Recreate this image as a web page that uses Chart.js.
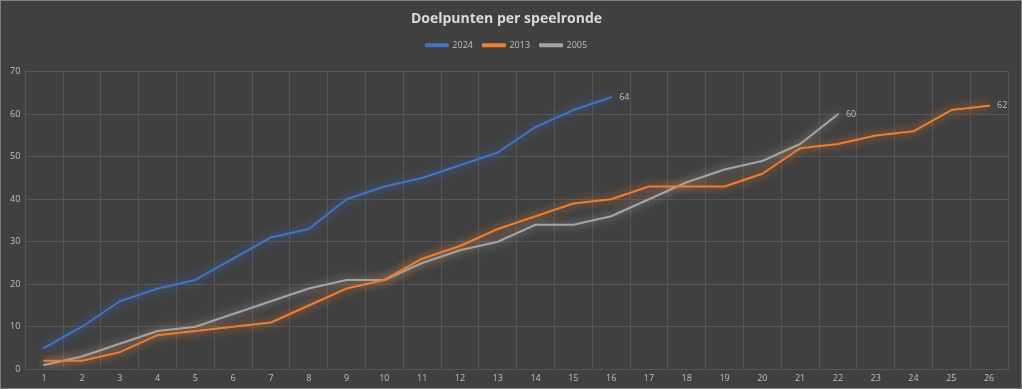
<!DOCTYPE html>
<html lang="nl">
<head>
<meta charset="UTF-8">
<title>Doelpunten per speelronde</title>
<script src="https://cdn.jsdelivr.net/npm/chart.js"></script>
<style>
  html, body { margin: 0; padding: 0; background: #404040; }
  #wrap { width: 1022px; height: 389px; box-sizing: border-box; border: 1px solid #7f7f7f; }
  canvas { display: block; }
</style>
</head>
<body>
<div id="wrap"><canvas id="chart" width="1020" height="387"></canvas></div>
<script>
// speelrondes 1 t/m 26
const rondes = ['1','2','3','4','5','6','7','8','9','10','11','12','13','14','15','16','17','18','19','20','21','22','23','24','25','26'];
const goals2024 = [5, 10, 16, 19, 21, 26, 31, 33, 40, 43, 45, 48, 51, 57, 61, 64];
const goals2013 = [2, 2, 4, 8, 9, 10, 11, 15, 19, 21, 26, 29, 33, 36, 39, 40, 43, 43, 43, 46, 52, 53, 55, 56, 61, 62];
const goals2005 = [1, 3, 6, 9, 10, 13, 16, 19, 21, 21, 25, 28, 30, 34, 34, 36, 40, 44, 47, 49, 53, 60];

const textColor = '#bfbfbf';
const gridColor = '#555555';

// zachte gloed onder de lijnen
const glowPlugin = {
  id: 'glow',
  beforeDatasetDraw(chart, args) {
    const ctx = chart.ctx;
    ctx.save();
    ctx.shadowColor = args.meta.dataset.options.borderColor;
    ctx.shadowBlur = 10;
  },
  afterDatasetDraw(chart) {
    chart.ctx.restore();
  }
};

// extra ruimte onder de legenda
const legendGap = {
  id: 'legendGap',
  beforeInit(chart) {
    const fit = chart.legend.fit;
    chart.legend.fit = function () {
      fit.bind(chart.legend)();
      this.height += 12;
    };
  }
};

// waarde naast het laatste punt
const lastLabelPlugin = {
  id: 'lastLabel',
  afterDatasetsDraw(chart) {
    const ctx = chart.ctx;
    ctx.save();
    ctx.font = '9px "Open Sans", sans-serif';
    ctx.fillStyle = textColor;
    ctx.textBaseline = 'middle';
    chart.data.datasets.forEach((ds, i) => {
      const pts = chart.getDatasetMeta(i).data;
      const last = pts[pts.length - 1];
      ctx.fillText(ds.data[ds.data.length - 1], last.x + 8, last.y);
    });
    ctx.restore();
  }
};

new Chart(document.getElementById('chart'), {
  type: 'line',
  data: {
    labels: rondes,
    datasets: [
      { label: '2024', data: goals2024, borderColor: '#4472c4', backgroundColor: '#4472c4' },
      { label: '2013', data: goals2013, borderColor: '#ed7d31', backgroundColor: '#ed7d31' },
      { label: '2005', data: goals2005, borderColor: '#a5a5a5', backgroundColor: '#a5a5a5' }
    ]
  },
  options: {
    responsive: false,
    animation: false,
    layout: { padding: { left: 4, right: 13, top: 4, bottom: 0 } },
    elements: {
      line: { borderWidth: 2, tension: 0, borderCapStyle: 'round', borderJoinStyle: 'round' },
      point: { radius: 0, hoverRadius: 0 }
    },
    plugins: {
      title: {
        display: true,
        text: 'Doelpunten per speelronde',
        color: '#d9d9d9',
        font: { family: '"Open Sans", sans-serif', size: 14, weight: 'bold' },
        padding: { top: 6, bottom: 3 }
      },
      legend: {
        labels: {
          color: textColor,
          font: { family: '"Open Sans", sans-serif', size: 9 },
          boxWidth: 22,
          boxHeight: 2,
          padding: 10
        }
      },
      tooltip: { enabled: false }
    },
    scales: {
      x: {
        offset: true,
        grid: { color: gridColor, offset: true, drawTicks: false },
        border: { color: gridColor },
        ticks: { color: textColor, font: { family: '"Open Sans", sans-serif', size: 9 }, padding: 4, maxRotation: 0, autoSkip: false }
      },
      y: {
        min: 0,
        max: 70,
        grid: { color: gridColor, drawTicks: false },
        border: { display: false },
        ticks: { stepSize: 10, color: textColor, font: { family: '"Open Sans", sans-serif', size: 9 }, padding: 5 }
      }
    }
  },
  plugins: [glowPlugin, legendGap, lastLabelPlugin]
});
</script>
</body>
</html>
